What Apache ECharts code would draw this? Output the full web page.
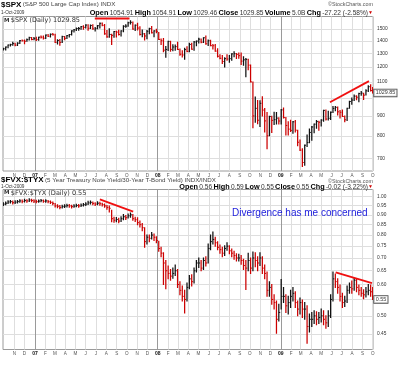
<!DOCTYPE html>
<html><head><meta charset="utf-8">
<script src="https://cdn.jsdelivr.net/npm/echarts@6/dist/echarts.min.js"></script>
<style>html,body{margin:0;padding:0;background:#fff}#c{width:400px;height:367px}</style>
</head><body><div id="c"></div><script>
// ---------- DATA (weekly) ----------
const WEEK_START = '2006-09-29';
const LAST_DATE = '2009-10-01';
const X_MIN_DATE = '2006-09-28';
const X_MAX_DATE = '2009-10-02';
const MONTH_START = '2006-11-01';
const MONTH_LABELS = ['N','D','07','F','M','A','M','J','J','A','S','O','N','D','08','F','M','A','M','J','J','A','S','O','N','D','09','F','M','A','M','J','J','A','S','O'];

const SPX_CLOSE = [
1335.85,1349.59,1365.62,1368.60,1377.34,1364.30,1380.90,1401.20,1400.95,1396.71,1409.84,1427.09,1410.76,1418.30,
1409.71,1430.73,1430.50,1422.18,1448.39,1438.06,1455.54,1451.19,1387.17,1402.84,1386.95,1436.11,1420.86,1443.76,1452.85,1484.35,1494.07,1505.62,1505.85,1522.75,1515.73,1536.34,1507.67,1532.91,1502.56,1503.35,1530.44,1552.50,1534.10,1458.95,1433.06,1453.64,1445.94,1479.37,1473.99,1453.55,1484.25,1525.75,1526.75,1557.59,1561.80,1500.63,1535.28,1509.65,1453.70,1458.74,1440.70,1481.14,1504.66,1467.95,1484.46,1478.49,
1411.63,1401.02,1325.19,1330.61,1395.42,1331.29,1349.99,1353.11,1330.63,1293.37,1288.14,1329.51,1315.22,1370.40,1332.83,1390.33,1397.84,1413.90,1388.28,1425.35,1375.93,1400.38,1360.68,1360.03,1317.93,1278.38,1262.90,1239.49,1260.68,1257.76,1260.31,1296.32,1298.20,1292.20,1282.83,1242.31,1251.70,1255.08,1213.27,1099.23,899.22,940.55,876.77,968.75,930.99,873.29,800.03,896.24,876.07,879.73,887.88,872.80,
931.80,890.35,850.12,831.95,825.88,868.60,826.84,770.05,735.09,683.38,756.55,768.54,815.94,842.50,856.56,869.60,866.23,877.52,929.23,882.88,887.00,919.14,940.09,946.21,921.23,918.90,896.42,879.13,940.38,979.26,987.48,1010.48,1004.09,1026.13,1028.93,1016.40,1042.73,1068.30,1044.38,1029.85];
const SPX_HIGH = [
1340,1350,1366,1372,1389,1381,1385,1403,1407,1406,1415,1431,1428,1427,
1429,1431,1441,1440,1449,1453,1457,1461,1456,1410,1411,1438,1437,1445,1453,1485,1497,1511,1514,1523,1530,1540,1539,1538,1540,1515,1532,1555,1556,1541,1488,1504,1456,1480,1481,1490,1485,1530,1539,1561,1576,1564,1536,1553,1521,1492,1462,1488,1508,1523,1485,1499,
1471,1415,1419,1355,1396,1396,1368,1367,1388,1335,1321,1341,1352,1380,1380,1395,1399,1422,1415,1426,1440,1406,1404,1370,1370,1336,1290,1285,1267,1290,1285,1297,1313,1300,1304,1303,1274,1262,1256,1215,1099,1006,985,984,1007,939,917,897,897,919,918,890,
934,943,891,869,877,870,875,827,780,741,758,804,832,845,857,876,871,879,930,931,924,920,951,950,948,928,931,899,941,980,999,1018,1013,1028,1039,1028,1049,1074,1080,1064];
const SPX_LOW = [
1326,1327,1344,1358,1364,1360,1363,1378,1398,1377,1396,1407,1410,1408,
1403,1405,1424,1416,1420,1437,1433,1450,1386,1374,1364,1386,1410,1420,1433,1448,1475,1488,1491,1498,1500,1510,1490,1505,1500,1484,1503,1510,1530,1455,1430,1429,1371,1430,1432,1450,1440,1476,1516,1526,1546,1500,1489,1492,1448,1435,1407,1418,1460,1467,1435,1468,
1411,1370,1313,1270,1322,1316,1321,1324,1330,1286,1273,1256,1312,1312,1332,1324,1360,1383,1384,1387,1373,1362,1360,1335,1317,1272,1260,1225,1200,1249,1234,1248,1274,1261,1263,1217,1212,1133,1180,1099,839,866,859,845,899,818,741,800,815,855,857,857,
858,889,804,804,821,812,818,754,734,667,672,751,768,779,814,836,826,847,872,878,878,881,918,927,904,888,896,869,875,941,964,985,990,978,1016,991,1017,1039,1041,1029];

const RATIO_CLOSE = [
.958,.963,.970,.972,.966,.969,.972,.976,.973,.978,.976,.981,.978,.975,
.972,.975,.978,.974,.976,.972,.968,.962,.948,.946,.940,.944,.947,.950,.948,.944,.947,.950,.948,.952,.955,.958,.965,.968,.962,.958,.963,.960,.955,.948,.940,.935,.880,.872,.876,.868,.880,.890,.885,.895,.900,.880,.875,.860,.850,.835,.770,.790,.785,.800,.790,.775,
.740,.720,.680,.650,.640,.630,.640,.650,.600,.580,.560,.550,.590,.620,.610,.650,.680,.680,.660,.690,.680,.740,.770,.780,.765,.745,.735,.720,.740,.750,.730,.720,.710,.700,.700,.690,.670,.660,.690,.660,.700,.690,.680,.700,.660,.640,.580,.590,.550,.540,.490,.510,
.560,.560,.530,.540,.560,.570,.540,.520,.540,.520,.520,.470,.490,.490,.500,.490,.495,.500,.490,.480,.500,.550,.620,.610,.590,.560,.540,.545,.580,.590,.585,.615,.590,.580,.570,.565,.575,.580,.575,.550];
const RATIO_HIGH = [
.966,.970,.977,.979,.975,.977,.979,.983,.981,.985,.983,.988,.986,.982,
.980,.981,.984,.981,.982,.979,.975,.970,.962,.954,.950,.952,.954,.957,.956,.952,.954,.957,.956,.959,.962,.965,.974,.976,.970,.966,.971,.969,.963,.958,.950,.948,.925,.888,.886,.882,.890,.902,.897,.905,.910,.902,.888,.885,.868,.856,.835,.800,.800,.812,.805,.792,
.772,.745,.722,.690,.668,.655,.660,.672,.655,.610,.595,.580,.605,.632,.635,.660,.690,.700,.690,.700,.705,.760,.800,.815,.790,.770,.755,.745,.752,.765,.752,.738,.728,.718,.715,.710,.695,.690,.720,.700,.725,.722,.705,.722,.705,.672,.645,.610,.600,.565,.545,.535,
.618,.590,.565,.560,.580,.590,.575,.545,.555,.548,.540,.530,.505,.510,.515,.512,.510,.520,.515,.500,.515,.565,.645,.638,.620,.598,.570,.560,.595,.605,.612,.622,.618,.598,.590,.582,.590,.600,.598,.590];
const RATIO_LOW = [
.950,.955,.962,.964,.958,.961,.964,.968,.966,.970,.968,.973,.971,.967,
.966,.968,.971,.968,.969,.966,.961,.955,.942,.938,.932,.936,.939,.942,.941,.937,.940,.943,.941,.945,.948,.950,.956,.959,.955,.950,.955,.952,.947,.940,.930,.915,.865,.862,.865,.860,.866,.875,.876,.883,.888,.872,.866,.850,.838,.820,.745,.760,.770,.782,.775,.765,
.728,.705,.600,.585,.620,.615,.622,.632,.590,.565,.545,.508,.545,.585,.595,.605,.645,.662,.650,.655,.668,.680,.735,.760,.750,.735,.720,.705,.710,.732,.718,.705,.695,.688,.688,.675,.655,.583,.650,.640,.650,.665,.650,.670,.640,.620,.560,.560,.535,.520,.452,.485,
.520,.540,.510,.505,.525,.545,.525,.500,.505,.495,.490,.426,.455,.470,.478,.475,.478,.482,.475,.465,.470,.495,.545,.590,.570,.545,.525,.528,.540,.570,.570,.580,.575,.565,.560,.552,.558,.565,.560,.550];

const SPX_TICKS = [700,800,900,1000,1100,1200,1300,1400,1500];
const SPX_TICK_LABELS = [700,800,900,1100,1200,1300,1400,1500];
const RATIO_TICKS = [0.45,0.50,0.55,0.60,0.65,0.70,0.75,0.80,0.85,0.90,0.95,1.00];
const RATIO_TICK_LABELS = [0.45,0.50,0.60,0.65,0.70,0.75,0.80,0.85,0.90,0.95,1.00];
const SPX_RANGE = [650, 1616];
const RATIO_RANGE = [0.411, 1.043];

// annotation trend lines: [date, value] pairs
const SPX_TREND_1 = [['2007-06-28',1597],['2007-10-09',1597]];
const SPX_TREND_2 = [['2009-05-27',975],['2009-09-20',1104]];
const RATIO_TREND_1 = [['2007-07-13',0.985],['2007-10-20',0.917]];
const RATIO_TREND_2 = [['2009-06-13',0.644],['2009-09-29',0.605]];
const NOTE_TEXT = 'Divergence has me concerned';

// ---------- helpers ----------
function d(s){const p=s.split('-');return new Date(+p[0],+p[1]-1,+p[2]).getTime();}
const weeks=[];
(function(){const p=WEEK_START.split('-');for(let i=0;i<SPX_CLOSE.length;i++){weeks.push(new Date(+p[0],+p[1]-1,+p[2]+7*i).getTime());}weeks[weeks.length-1]=d(LAST_DATE);})();
const monthTicks=[];
(function(){const p=MONTH_START.split('-');for(let i=0;i<MONTH_LABELS.length;i++){monthTicks.push(new Date(+p[0],+p[1]-1+i,1).getTime());}})();
function bars(hi,lo,cl){return cl.map((c,i)=>[weeks[i],Math.log(hi[i]),Math.log(lo[i]),Math.log(c),(i===0||c>=cl[i-1])?1:0]);}
function monthLabel(v){let k=0,best=1e20;monthTicks.forEach((t,i)=>{const dd=Math.abs(t-v);if(dd<best){best=dd;k=i;}});const s=MONTH_LABELS[k];return s.length>1?'{y|'+s+'}':s;}
const gridColors=['#dedede','#dedede','#9a9a9a','#dedede','#dedede','#dedede','#dedede','#dedede','#dedede','#dedede','#dedede','#dedede'];
function renderItem(params,api){
  const x=api.value(0);
  const pH=api.coord([x,api.value(1)]),pL=api.coord([x,api.value(2)]),pC=api.coord([x,api.value(3)]);
  const col=api.value(4)?'#111':'#cc0000';
  const px=pH[0];
  return {type:'group',children:[
    {type:'line',shape:{x1:px,y1:pH[1]-0.5,x2:px,y2:pL[1]+0.5},style:{stroke:col,lineWidth:1.25}},
    {type:'line',shape:{x1:px,y1:pC[1],x2:px+1.4,y2:pC[1]},style:{stroke:col,lineWidth:1}}
  ]};
}
function trend(pts,xi){return {type:'line',xAxisIndex:xi,yAxisIndex:xi,data:pts.map(p=>[d(p[0]),Math.log(p[1])]),showSymbol:false,symbol:'none',lineStyle:{color:'#f01010',width:1.8},silent:true,z:5};}
function xAxis(i){return {type:'value',gridIndex:i,min:d(X_MIN_DATE),max:d(X_MAX_DATE),
  axisLine:{show:false},axisTick:{show:false,customValues:monthTicks},
  splitLine:{show:true,customValues:monthTicks,lineStyle:{color:gridColors,width:1}},
  axisLabel:{customValues:monthTicks,formatter:monthLabel,fontSize:4.6,color:'#555',margin:2,hideOverlap:false,showMinLabel:true,showMaxLabel:true,
    rich:{y:{fontWeight:'bold',color:'#111',fontSize:5}}}};}
function yAxis(i,range,ticks,labels,fmt){return {type:'value',gridIndex:i,position:'right',min:Math.log(range[0]),max:Math.log(range[1]),
  axisLine:{show:false},axisTick:{show:false,customValues:ticks.map(Math.log)},
  splitLine:{show:true,customValues:ticks.map(Math.log),lineStyle:{color:'#dedede',width:1}},
  axisLabel:{customValues:labels.map(Math.log),formatter:fmt,fontSize:4.8,color:'#333',margin:4}};}
function priceBox(xi,val,txt){return {type:'scatter',xAxisIndex:xi,yAxisIndex:xi,data:[[weeks[weeks.length-1],Math.log(val)]],symbolSize:0,clip:false,silent:true,z:10,
  label:{show:true,position:'right',distance:1.5,formatter:txt,backgroundColor:'#fff',borderColor:'#222',borderWidth:0.8,padding:[1.2,1.5,0.6,1.5],fontSize:5.4,color:'#000'}};}

const F='Liberation Sans, Arial, sans-serif';
function txt(x,y,text,rich,align,extra){return Object.assign({type:'text',x:x,y:y,silent:true,z:20,style:{text:text,rich:rich||undefined,align:align||'left',verticalAlign:'middle',fontFamily:F,fontSize:4.7,fill:'#333'}},extra||{});}
const hdrRich={b:{fontSize:8,fontWeight:'bold',fill:'#000',fontFamily:F},n:{fontSize:6.2,fill:'#444',fontFamily:F}};
const ohlcRich={b:{fontSize:7.3,fontWeight:'bold',fill:'#000',fontFamily:F},n:{fontSize:6.6,fill:'#333',fontFamily:F},r:{fontSize:5,fill:'#d00000',fontFamily:F}};
const legRich={i:{fontSize:5.5,fontWeight:'bold',fill:'#333',fontFamily:'DejaVu Sans'},t:{fontSize:6.5,fill:'#333',fontFamily:'DejaVu Sans'}};
const markStyle=(t)=>({style:{text:t,align:'right',verticalAlign:'middle',fontFamily:F,fontSize:5.4,fill:'#555'}});

const option={
  animation:false,backgroundColor:'#fff',textStyle:{fontFamily:F},
  grid:[
    {left:3,top:16.5,width:370,height:154.5,show:true,borderColor:'#9a9a9a',borderWidth:1,outerBoundsMode:'none'},
    {left:3,top:189.5,width:370,height:160,show:true,borderColor:'#9a9a9a',borderWidth:1,outerBoundsMode:'none'}
  ],
  xAxis:[xAxis(0),xAxis(1)],
  yAxis:[
    yAxis(0,SPX_RANGE,SPX_TICKS,SPX_TICK_LABELS,v=>String(Math.round(Math.exp(v)))),
    yAxis(1,RATIO_RANGE,RATIO_TICKS,RATIO_TICK_LABELS,v=>Math.exp(v).toFixed(2))
  ],
  series:[
    {type:'custom',xAxisIndex:0,yAxisIndex:0,renderItem:renderItem,data:bars(SPX_HIGH,SPX_LOW,SPX_CLOSE),encode:{x:0,y:[1,2,3]},silent:true,clip:true},
    {type:'custom',xAxisIndex:1,yAxisIndex:1,renderItem:renderItem,data:bars(RATIO_HIGH,RATIO_LOW,RATIO_CLOSE),encode:{x:0,y:[1,2,3]},silent:true,clip:true},
    trend(SPX_TREND_1,0),trend(SPX_TREND_2,0),trend(RATIO_TREND_1,1),trend(RATIO_TREND_2,1),
    priceBox(0,SPX_CLOSE[SPX_CLOSE.length-1],'1029.85'),
    priceBox(1,RATIO_CLOSE[RATIO_CLOSE.length-1],'0.55')
  ],
  graphic:[
    txt(1,4.5,'{b|$SPX} {n|(S&P 500 Large Cap Index) INDX}',hdrRich),
    txt(373,4.5,'',null,'right',markStyle('©StockCharts.com')),
    txt(1,13,'1-Oct-2009'),
    txt(373,13,'{b|Open} {n|1054.91} {b|High} {n|1054.91} {b|Low} {n|1029.46} {b|Close} {n|1029.85} {b|Volume} {n|5.0B} {b|Chg} {n|-27.22 (-2.58%)}{r|▼}',ohlcRich,'right'),
    txt(4,20.5,'{i|M} {t|$SPX (Daily) 1029.85}',legRich),
    txt(1,180,'{b|$FVX:$TYX} {n|(5 Year Treasury Note Yield/30-Year T-Bond Yield) INDX/INDX}',hdrRich),
    txt(373,182,'',null,'right',markStyle('©StockCharts.com')),
    txt(1,187,'1-Oct-2009'),
    txt(373,187,'{b|Open} {n|0.56} {b|High} {n|0.59} {b|Low} {n|0.55} {b|Close} {n|0.55} {b|Chg} {n|-0.02 (-3.22%)}{r|▼}',ohlcRich,'right'),
    txt(4,193,'{i|M} {t|$FVX:$TYX (Daily) 0.55}',legRich),
    txt(232,213.5,NOTE_TEXT,null,'left',{style:{text:NOTE_TEXT,align:'left',verticalAlign:'middle',fontFamily:F,fontSize:10,fill:'#1c1cdc'}})
  ]
};
const chart=echarts.init(document.getElementById('c'),null,{renderer:'canvas'});
chart.setOption(option);
</script></body></html>
